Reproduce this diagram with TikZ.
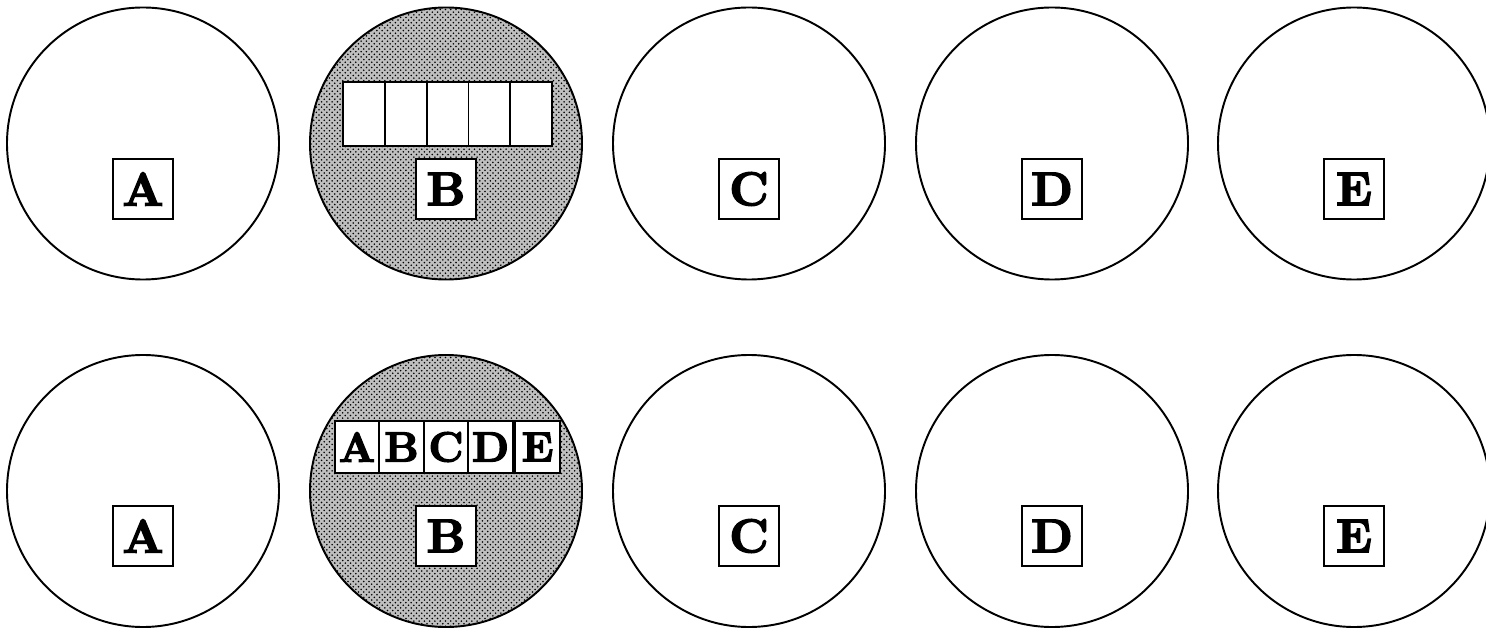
\documentclass[tikz,border=0pt]{standalone}
\usepackage{fontspec}
\usetikzlibrary{positioning,patterns}
\newfontfamily\fatface[FakeBold=3]{lmroman10-bold.otf}
\begin{document}
\begin{tikzpicture}[x=0.2mm,y=-0.2mm,
    disc/.style={circle,draw,line width=1.1pt,minimum size=54.4mm,inner sep=0pt},
    dotdisc/.style={disc,preaction={fill=gray!50},pattern=crosshatch dots,pattern color=black},
    tag/.style={draw,line width=1pt,fill=white,minimum size=12mm,inner sep=0pt,
      font=\fatface\fontsize{27}{27}\selectfont},
    slot/.style={draw,line width=1pt,fill=white,minimum width=8.36mm,minimum height=12.8mm,
      inner sep=0pt,outer sep=0pt},
    cell/.style={draw,line width=1pt,fill=white,minimum width=8.9mm,minimum height=10.4mm,
      inner sep=0pt,outer sep=0pt,font=\fatface\fontsize{24}{24}\selectfont}]
        \useasboundingbox (0,0) rectangle (1486,629);
        \node[disc] (a1) at (143,143.5) {};
        \node[dotdisc] (b1) at (446,143.5) {};
        \node[disc] (c1) at (749,143.5) {};
        \node[disc] (d1) at (1052,143.5) {};
        \node[disc] (e1) at (1354,143.5) {};
        \node[disc] (a2) at (143,491) {};
        \node[dotdisc] (b2) at (446,491) {};
        \node[disc] (c2) at (749,491) {};
        \node[disc] (d2) at (1052,491) {};
        \node[disc] (e2) at (1354,491) {};
        \node[tag] (ta1) at (143,189) {A};
        \node[tag] (tb1) at (446,189) {B};
        \node[tag] (tc1) at (749,189) {C};
        \node[tag] (td1) at (1052,189) {D};
        \node[tag] (te1) at (1354,189) {E};
        \node[tag] (ta2) at (143,536) {A};
        \node[tag] (tb2) at (446,536) {B};
        \node[tag] (tc2) at (749,536) {C};
        \node[tag] (td2) at (1052,536) {D};
        \node[tag] (te2) at (1354,536) {E};
        \node[slot] (s1) at (364,114) {};
        \node[slot,right=0pt of s1] (s2) {};
        \node[slot,right=0pt of s2] (s3) {};
        \node[slot,right=0pt of s3] (s4) {};
        \node[slot,right=0pt of s4] (s5) {};
        \node[cell] (r1) at (357,447) {A};
        \node[cell,right=0pt of r1] (r2) {B};
        \node[cell,right=0pt of r2] (r3) {C};
        \node[cell,right=0pt of r3] (r4) {D};
        \node[cell,right=0.5mm of r4] (r5) {E};
      \end{tikzpicture}
\end{document}
